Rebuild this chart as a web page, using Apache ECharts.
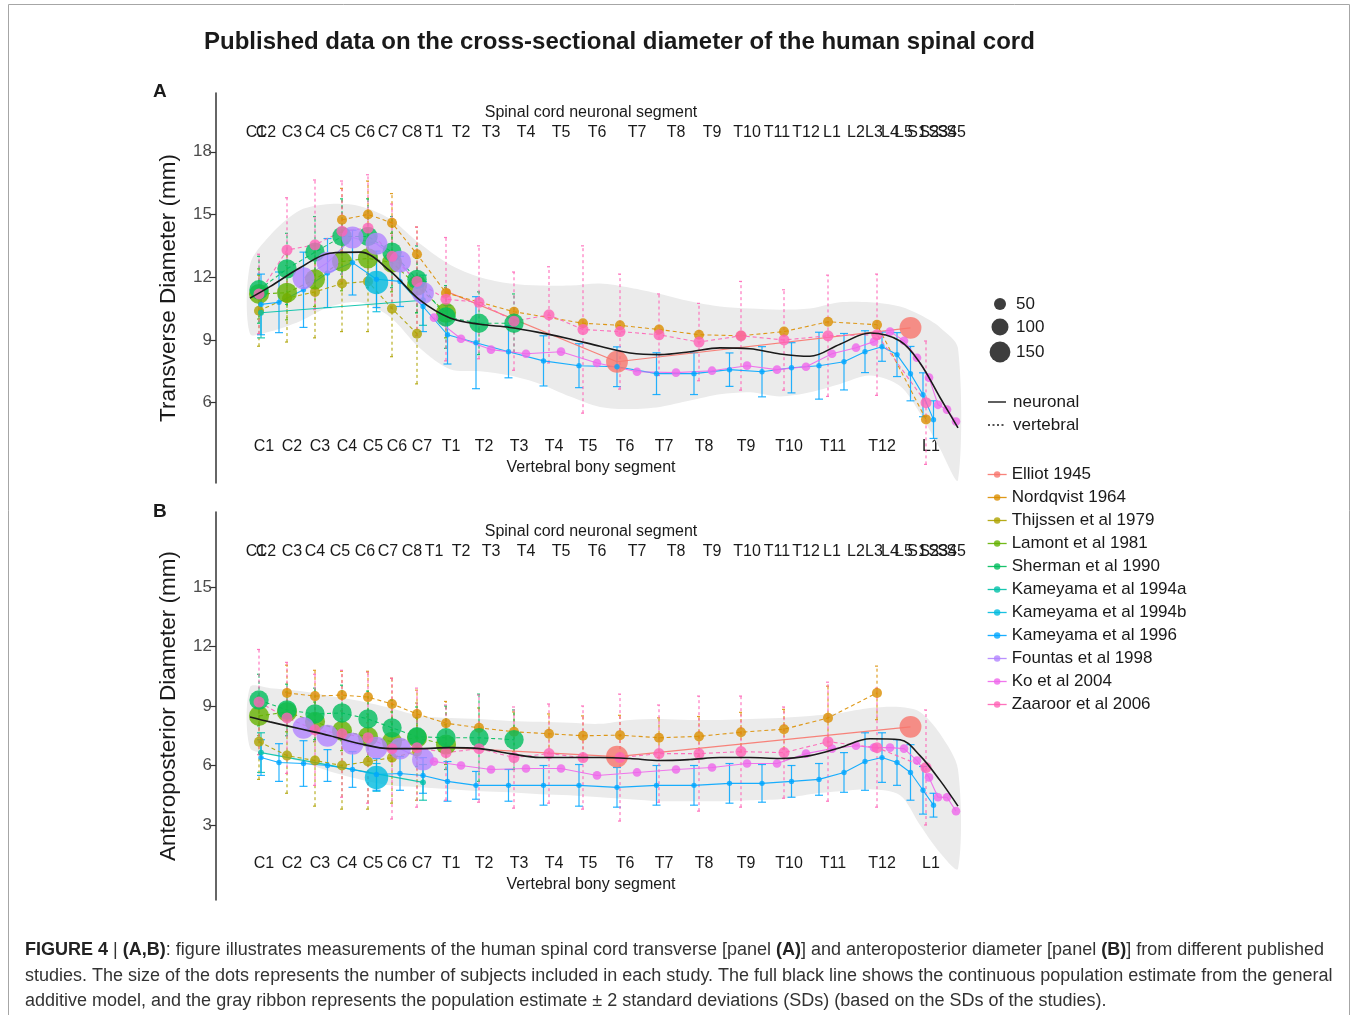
<!DOCTYPE html>
<html>
<head>
<meta charset="utf-8">
<script src="https://cdn.jsdelivr.net/npm/echarts@6/dist/echarts.min.js"></script>
<style>
html, body { margin: 0; padding: 0; background: #fff; }
#chart { width: 1358px; height: 1015px; }
</style>
</head>
<body>
<div id="chart"></div>
<script>
// ---- segment scales (position along the cord, arbitrary units) ----
const neuroNames = ['C1','C2','C3','C4','C5','C6','C7','C8','T1','T2','T3','T4','T5','T6','T7','T8','T9','T10','T11','T12','L1','L2','L3','L4','L5','S1','S2','S3','S4','S5'];
const neuroX = [4.0,5.0,7.6,9.9,12.4,14.9,17.2,19.6,21.8,24.5,27.5,31.0,34.5,38.1,42.1,46.0,49.6,53.1,56.1,59.0,61.6,64.0,65.8,67.4,68.8,70.1,71.3,72.2,73.1,74.0];
const vertNames = ['C1','C2','C3','C4','C5','C6','C7','T1','T2','T3','T4','T5','T6','T7','T8','T9','T10','T11','T12','L1'];
const vertX = [4.8,7.6,10.4,13.1,15.7,18.1,20.6,23.5,26.8,30.3,33.8,37.2,40.9,44.8,48.8,53.0,57.3,61.7,66.6,71.5];

const A_yTicks = [6, 9, 12, 15, 18];
const B_yTicks = [3, 6, 9, 12, 15];
const sizeLegend = [50, 100, 150];

// ---- studies ----
const studies = ['Elliot 1945','Nordqvist 1964','Thijssen et al 1979','Lamont et al 1981','Sherman et al 1990','Kameyama et al 1994a','Kameyama et al 1994b','Kameyama et al 1996','Fountas et al 1998','Ko et al 2004','Zaaroor et al 2006'];
const studyColors = ['#F8766D','#DB8E00','#AEA200','#64B200','#00BD5C','#00C1A7','#00BADE','#00A6FF','#B385FF','#EF67EB','#FF63B6'];
const studyLevel = ['neuronal','vertebral','vertebral','vertebral','vertebral','neuronal','neuronal','neuronal','neuronal','neuronal','vertebral'];
const studyN = [165, 35, 35, 140, 130, 12, 190, 10, 165, 26, 42];

// rows: [segment level, mean (mm), sd (mm) or null, n (optional)]
// vertebral studies: index into vertNames; neuronal studies: index into neuroNames (.5 = between segments)
const A_elliot = [[8.5,11.3,null,15],[13.5,7.96,null],[24.5,9.58,null]];
const A_nordqvist = [[3,14.75,1.5],[4,15.0,1.6],[5,14.6,1.4],[6,13.1,1.3],[7,11.25,null],[9,10.35,null],[11,9.8,null],[12,9.7,null],[13,9.5,null],[14,9.25,null],[15,9.2,null],[16,9.4,null],[17,9.87,null],[18,9.73,null],[19,5.2,null]];
const A_thijssen = [[0,10.4,1.7],[1,11.0,2.1],[2,11.3,2.2],[3,11.7,2.3],[4,11.8,2.4],[5,10.5,2.3],[6,9.3,2.4]];
const A_lamont = [[0,11.2,1.2],[1,11.26,1.3],[2,11.9,1.3],[3,12.75,1.4],[4,12.9,1.4],[5,12.7,1.4],[6,11.6,1.3],[7,10.3,1.2]];
const A_sherman = [[0,11.4,1.6],[1,12.4,1.7],[2,13.2,1.7],[3,13.95,1.8],[4,13.95,1.8],[5,13.2,1.7],[6,11.9,1.6],[7,10.1,1.5],[8,9.8,1.5],[9,9.8,1.4]];
const A_kam94a = [[0.5,10.3,1.2],[7.5,10.9,1.2]];
const A_kam94b = [[5.5,11.75,1.4]];
const A_kam96 = [[0.5,10.7,1.45],[1.5,10.8,1.45],[2.5,11.4,1.8],[3.5,12.2,1.65],[4.5,12.7,1.55],[5.5,11.9,1.35],[6.5,11.8,1.2],[7.5,10.6,1.2],[8.5,9.25,1.4],[9.5,8.87,2.2],[10.5,8.44,1.25],[11.5,8.0,1.2],[12.5,7.77,1.05],[13.5,7.72,0.95],[14.5,7.39,1.0],[15.5,7.39,1.0],[16.5,7.58,0.8],[17.5,7.48,1.2],[18.5,7.67,1.2],[19.5,7.77,1.6],[20.5,7.96,1.35],[21.5,8.44,1.0],[22.5,8.68,0.7],[23.5,8.3,1.05],[24.5,7.39,1.3],[25.5,6.38,1.05],[26.5,5.19,0.9]];
const A_fountas = [[2.5,11.95,null],[3.5,12.7,null],[4.5,13.9,null],[5.5,13.6,null],[6.5,12.75,null],[7.5,11.25,null]];
const A_ko = [[8,10.07],[9,9.06],[10,8.54],[11,8.34],[12,8.44],[13,7.9],[14,7.48],[15,7.44],[16,7.53],[17,7.77],[18,7.58],[19,7.72],[20,8.34],[21,8.63],[22,8.92],[23,9.4],[24,8.96],[25,8.15],[26,7.2],[27,5.9],[28,5.67],[29,5.1]];
const A_zaaroor = [[0,11.2,1.9],[1,13.3,2.5],[2,13.55,3.1],[3,14.2,2.4],[4,14.35,2.55],[5,13.0,2.5],[6,11.8,2.6],[7,10.95,2.95],[8,10.8,2.7],[9,9.9,2.35],[10,10.2,2.3],[11,9.5,4.0],[12,9.4,2.75],[13,9.25,1.95],[14,8.9,1.85],[15,9.2,2.6],[16,9.0,2.4],[17,9.2,2.9],[18,9.25,2.9],[19,6.0,2.95]];

const B_elliot = [[8.5,6.9,null,15],[13.5,6.45,null],[24.5,7.95,null]];
const B_nordqvist = [[1,9.66,1.4],[2,9.5,1.3],[3,9.55,1.2],[4,9.45,1.3],[5,9.1,1.3],[6,8.6,1.2],[7,8.13,1.1],[8,7.9,1.0],[9,7.7,1.0],[10,7.6,1.0],[11,7.5,1.0],[12,7.53,1.0],[13,7.4,1.0],[14,7.47,1.0],[15,7.68,1.0],[16,7.83,1.0],[17,8.4,1.6],[18,9.66,1.35]];
const B_thijssen = [[0,7.2,1.9],[1,6.5,1.9],[2,6.25,2.3],[3,6.0,2.2],[4,6.2,2.4],[5,6.4,2.3],[6,6.7,2.45]];
const B_lamont = [[0,8.5,1.0],[1,8.7,1.0],[2,8.2,1.0],[3,7.75,1.0],[4,7.45,1.0],[5,7.2,1.0],[6,7.4,1.0],[7,7.05,1.0]];
const B_sherman = [[0,9.3,1.3],[1,8.8,1.3],[2,8.6,1.3],[3,8.65,1.4],[4,8.35,1.4],[5,7.9,1.4],[6,7.45,1.5],[7,7.4,1.6],[8,7.4,2.2],[9,7.3,1.5]];
const B_kam94a = [[0.5,6.65,1.0],[7.5,5.15,0.9]];
const B_kam94b = [[5.5,5.4,0.7]];
const B_kam96 = [[0.5,6.4,0.9],[1.5,6.15,0.95],[2.5,6.1,1.15],[3.5,6.0,0.8],[4.5,5.8,0.9],[5.5,5.55,0.8],[6.5,5.6,0.85],[7.5,5.5,0.9],[8.5,5.2,1.0],[9.5,5.0,0.7],[10.5,5.0,0.8],[11.5,5.0,1.0],[12.5,5.0,1.05],[13.5,4.9,1.0],[14.5,5.0,1.0],[15.5,5.0,1.0],[16.5,5.1,1.0],[17.5,5.1,0.95],[18.5,5.2,0.8],[19.5,5.3,0.8],[20.5,5.65,1.0],[21.5,6.2,1.45],[22.5,6.4,1.25],[23.5,6.15,1.15],[24.5,5.65,1.4],[25.5,4.75,1.2],[26.5,4.0,0.6]];
const B_fountas = [[2.5,7.9,null],[3.5,7.5,null],[4.5,7.1,null],[5.5,6.9,null],[6.5,6.85,null],[7.5,6.3,null]];
const B_ko = [[8,6.2],[9,6.0],[10,5.8],[11,5.85],[12,5.85],[13,5.5],[14,5.65],[15,5.8],[16,5.9],[17,6.1],[18,6.1],[19,6.6],[20,6.85],[21,7.0],[22,6.9],[23,6.9],[24,6.85],[25,6.25],[26,5.4],[27,4.4],[28,4.4],[29,3.7]];
const B_zaaroor = [[0,9.2,2.65],[1,8.4,2.8],[2,7.8,2.8],[3,7.6,3.2],[4,7.4,3.3],[5,6.85,3.55],[6,6.9,3.0],[7,6.65,2.4],[8,6.85,2.7],[9,6.4,2.55],[10,6.6,2.5],[11,6.4,2.6],[12,6.4,3.2],[13,6.6,2.45],[14,6.6,2.9],[15,6.7,2.8],[16,6.65,2.3],[17,7.2,3.0],[18,6.9,3.0],[19,5.9,2.9]];

// ---- additive model estimate and +/- 2 SD ribbon ----
const gamPos = [3.4,5.4,8.4,11.4,14.4,17.4,20.4,23.4,26.4,29.4,32.4,35.4,38.4,41.4,44.4,47.4,50.4,53.4,56.4,59.4,62.4,65.4,68.4,70.4,72.4,74.2];
const A_gamMean = [11.0,11.55,12.45,13.15,13.2,12.3,10.9,10.05,9.75,9.6,9.35,9.05,8.7,8.38,8.3,8.44,8.62,8.58,8.33,8.22,8.8,9.33,8.95,7.9,6.25,4.8];
const A_gamLow = [9.3,9.4,9.9,10.6,10.8,10.1,8.6,7.6,7.5,7.3,6.9,6.3,5.8,5.7,5.8,6.1,6.4,6.5,6.3,6.5,6.9,7.3,6.8,5.5,3.8,2.3];
const A_gamHigh = [12.6,14.0,15.2,15.5,15.4,14.8,13.6,12.6,12.0,11.7,11.6,11.6,11.7,11.5,11.2,10.85,10.6,10.5,10.45,10.5,10.8,10.8,10.6,10.2,9.6,8.6];
const B_gamMean = [8.45,8.2,7.85,7.5,7.1,6.85,6.85,6.9,6.85,6.6,6.4,6.4,6.4,6.35,6.25,6.3,6.4,6.4,6.35,6.5,6.9,7.35,7.3,6.5,5.25,3.95];
const B_gamLow = [6.9,6.6,6.2,5.7,5.3,5.0,4.9,4.8,4.7,4.65,4.55,4.5,4.4,4.3,4.2,4.2,4.2,4.25,4.3,4.55,4.7,4.8,4.5,3.0,1.6,0.8];
const B_gamHigh = [9.95,9.9,9.75,9.5,9.25,8.9,8.5,8.4,8.35,8.25,8.2,8.15,8.1,8.3,8.35,8.3,8.3,8.35,8.4,8.5,8.65,8.9,8.95,8.7,7.6,5.8];

// ---- helpers ----
const FONT = "'Liberation Sans', Arial, sans-serif";
const TEXT = '#1a1a1a';
const vertDodge = -0.5;
const X_MIN = 0, X_MAX = 75;

const sizeOf = n => 1.7 * Math.sqrt(n);

function rgba(hex, a) {
  const v = parseInt(hex.slice(1), 16);
  return 'rgba(' + (v >> 16) + ',' + ((v >> 8) & 255) + ',' + (v & 255) + ',' + a + ')';
}

function neuroPos(level) {
  const i = Math.floor(level), f = level - i;
  if (f === 0 || i + 1 >= neuroX.length) return neuroX[i];
  return neuroX[i] + f * (neuroX[i + 1] - neuroX[i]);
}
function vertPos(level) {
  return vertX[level] + vertDodge;
}
// label lookup; the blank end stops keep ECharts from dropping crowded edge labels
function segLabel(xs, names) {
  return v => {
    const i = xs.findIndex(x => Math.abs(x - v) < 1e-6);
    return i < 0 ? '' : names[i];
  };
}
const padStops = xs => [X_MIN].concat(xs, [X_MAX]);

const panelRows = [
  [A_elliot, A_nordqvist, A_thijssen, A_lamont, A_sherman, A_kam94a, A_kam94b, A_kam96, A_fountas, A_ko, A_zaaroor],
  [B_elliot, B_nordqvist, B_thijssen, B_lamont, B_sherman, B_kam94a, B_kam94b, B_kam96, B_fountas, B_ko, B_zaaroor]
];
const panelGam = [[A_gamMean, A_gamLow, A_gamHigh], [B_gamMean, B_gamLow, B_gamHigh]];

const grids = [
  { left: 216, top: 93, width: 750, height: 390 },
  { left: 216, top: 512, width: 750, height: 388 }
];
const yConf = [
  { min: 2.16, max: 20.81, ticks: A_yTicks, name: 'Transverse Diameter (mm)' },
  { min: -0.78, max: 18.78, ticks: B_yTicks, name: 'Anteroposterior Diameter (mm)' }
];

const xAxes = [];
const yAxes = [];
grids.forEach((g, p) => {
  const common = {
    gridIndex: p, type: 'value', min: X_MIN, max: X_MAX,
    axisLine: { show: false, onZero: false },
    axisTick: { show: false },
    splitLine: { show: false },
    nameLocation: 'middle', nameMoveOverlap: false,
    nameTextStyle: { fontSize: 16, color: TEXT, fontFamily: FONT }
  };
  xAxes.push(Object.assign({}, common, {
    position: 'top', offset: -55,
    name: 'Spinal cord neuronal segment', nameGap: 27,
    axisLabel: { customValues: padStops(neuroX), formatter: segLabel(neuroX, neuroNames),
      hideOverlap: false, fontSize: 16, color: TEXT, fontFamily: FONT, margin: 7 }
  }));
  xAxes.push(Object.assign({}, common, {
    position: 'bottom', offset: -54,
    name: 'Vertebral bony segment', nameGap: 31,
    axisLabel: { customValues: padStops(vertX), formatter: segLabel(vertX, vertNames),
      hideOverlap: false, fontSize: 16, color: TEXT, fontFamily: FONT, margin: 10 }
  }));
  yAxes.push({
    gridIndex: p, type: 'value', min: yConf[p].min, max: yConf[p].max,
    axisLine: { show: true, onZero: false, lineStyle: { color: '#333', width: 1.5 } },
    axisTick: { show: true, length: 7, customValues: yConf[p].ticks, lineStyle: { color: '#333', width: 1.2 } },
    axisLabel: { customValues: yConf[p].ticks, fontSize: 17, color: '#4d4d4d', fontFamily: FONT, margin: 4 },
    splitLine: { show: false },
    name: yConf[p].name, nameLocation: 'middle', nameGap: 36, nameMoveOverlap: false,
    nameTextStyle: { fontSize: 22.5, color: TEXT, fontFamily: FONT }
  });
});

function errorRender(color, dashed) {
  const cap = dashed ? 2 : 4;
  return function (params, api) {
    const x = api.value(0), lo = api.value(1), hi = api.value(2);
    const a = api.coord([x, lo]), b = api.coord([x, hi]);
    const style = { stroke: color, lineWidth: 1.2, lineDash: dashed ? [3, 3] : null, fill: null };
    return {
      type: 'group',
      children: [
        { type: 'line', shape: { x1: a[0], y1: a[1], x2: b[0], y2: b[1] }, style: style },
        { type: 'line', shape: { x1: a[0] - cap, y1: a[1], x2: a[0] + cap, y2: a[1] }, style: style },
        { type: 'line', shape: { x1: b[0] - cap, y1: b[1], x2: b[0] + cap, y2: b[1] }, style: style }
      ]
    };
  };
}

const lineSeries = [];
const otherSeries = [];
[0, 1].forEach(p => {
  const xi = 2 * p;
  const [mean, low, high] = panelGam[p];

  // ribbon
  otherSeries.push({
    type: 'custom', name: 'ribbon', xAxisIndex: xi, yAxisIndex: p, z: 1, silent: true,
    data: gamPos.map((x, i) => [x, low[i], high[i]]),
    encode: { x: 0, y: [1, 2] },
    renderItem: (params, api) => {
      if (params.dataIndex !== 0) return null;
      const up = gamPos.map((x, i) => api.coord([x, high[i]]));
      const dn = gamPos.map((x, i) => api.coord([x, low[i]])).reverse();
      return { type: 'polygon', shape: { points: up.concat(dn), smooth: 0.3 }, style: { fill: '#ebebeb' } };
    }
  });

  studies.forEach((name, s) => {
    const rows = panelRows[p][s];
    const toX = studyLevel[s] === 'vertebral' ? vertPos : neuroPos;
    const dashed = studyLevel[s] === 'vertebral';
    const color = studyColors[s];
    const errs = rows.filter(r => r[2] != null).map(r => [toX(r[0]), r[1] - r[2], r[1] + r[2]]);
    if (errs.length) {
      otherSeries.push({
        type: 'custom', name: 'sd ' + name, xAxisIndex: xi, yAxisIndex: p, z: 2, silent: true,
        data: errs, encode: { x: 0, y: [1, 2] },
        renderItem: errorRender(rgba(color, 0.85), dashed)
      });
    }
    lineSeries.push({
      type: 'line', name: name, xAxisIndex: xi, yAxisIndex: p, z: 3,
      data: rows.map(r => [toX(r[0]), r[1], r[3] != null ? r[3] : studyN[s]]),
      symbol: 'circle',
      symbolSize: v => sizeOf(v[2]),
      itemStyle: { color: rgba(color, 0.8) },
      lineStyle: { color: rgba(color, 0.9), width: 1.1, type: dashed ? [4, 3] : 'solid' },
      emphasis: { disabled: true }
    });
  });

  otherSeries.push({
    type: 'line', name: 'gam', xAxisIndex: xi, yAxisIndex: p, z: 4, silent: true,
    data: gamPos.map((x, i) => [x, mean[i]]),
    smooth: 0.35, symbol: 'none',
    lineStyle: { color: TEXT, width: 1.6 }
  });
});

// ---- static figure furniture ----
const graphics = [
  { type: 'rect', shape: { x: 8.5, y: 4.5, width: 1341, height: 1030 }, style: { fill: null, stroke: '#a6a6a6', lineWidth: 1 }, silent: true },
  { type: 'text', x: 153, y: 92, style: { text: 'A', font: 'bold 19px ' + FONT, fill: TEXT, verticalAlign: 'middle' } },
  { type: 'text', x: 153, y: 512, style: { text: 'B', font: 'bold 19px ' + FONT, fill: TEXT, verticalAlign: 'middle' } }
];
const sizeY = [304, 327, 352];
sizeLegend.forEach((n, i) => {
  graphics.push({ type: 'circle', shape: { cx: 1000, cy: sizeY[i], r: sizeOf(n) / 2 }, style: { fill: 'rgba(40,40,40,0.9)' } });
  graphics.push({ type: 'text', x: 1016, y: sizeY[i], style: { text: String(n), font: '17px ' + FONT, fill: TEXT, verticalAlign: 'middle' } });
});
graphics.push({ type: 'line', shape: { x1: 988, y1: 402, x2: 1006, y2: 402 }, style: { stroke: TEXT, lineWidth: 1.4 } });
graphics.push({ type: 'text', x: 1013, y: 402, style: { text: 'neuronal', font: '17px ' + FONT, fill: TEXT, verticalAlign: 'middle' } });
graphics.push({ type: 'line', shape: { x1: 988, y1: 425, x2: 1006, y2: 425 }, style: { stroke: TEXT, lineWidth: 1.4, lineDash: [2, 2.5] } });
graphics.push({ type: 'text', x: 1013, y: 425, style: { text: 'vertebral', font: '17px ' + FONT, fill: TEXT, verticalAlign: 'middle' } });

const captionLines = [
  '{b|FIGURE 4} | {b|(A,B)}: figure illustrates measurements of the human spinal cord transverse [panel {b|(A)}] and anteroposterior diameter [panel {b|(B)}] from different published',
  'studies. The size of the dots represents the number of subjects included in each study. The full black line shows the continuous population estimate from the general',
  'additive model, and the gray ribbon represents the population estimate \u00b1 2 standard deviations (SDs) (based on the SDs of the studies).'
];
const captionY = [950, 976, 1001];
captionLines.forEach((t, i) => {
  graphics.push({
    type: 'text', x: 25, y: captionY[i],
    style: {
      text: t, font: '18px ' + FONT, fill: '#333', verticalAlign: 'middle',
      rich: { b: { fontWeight: 'bold', fontSize: 18, fontFamily: FONT, fill: '#222' } }
    }
  });
});

const chart = echarts.init(document.getElementById('chart'), null, { renderer: 'canvas' });
chart.setOption({
  animation: false,
  backgroundColor: '#fff',
  textStyle: { fontFamily: FONT },
  title: {
    text: 'Published data on the cross-sectional diameter of the human spinal cord',
    left: 204, top: 30, padding: 0,
    textStyle: { fontSize: 24, fontWeight: 'bold', color: TEXT, fontFamily: FONT }
  },
  grid: grids.map(g => Object.assign({ outerBoundsMode: 'none', containLabel: false }, g)),
  xAxis: xAxes,
  yAxis: yAxes,
  legend: {
    data: studies, orient: 'vertical', left: 987, top: 466, padding: 0,
    itemWidth: 19, itemHeight: 8, itemGap: 6, selectedMode: false,
    textStyle: { fontSize: 17, color: TEXT, fontFamily: FONT },
    lineStyle: { type: 'solid', width: 1.3 }
  },
  graphic: graphics,
  series: lineSeries.concat(otherSeries)
});
</script>
</body>
</html>
